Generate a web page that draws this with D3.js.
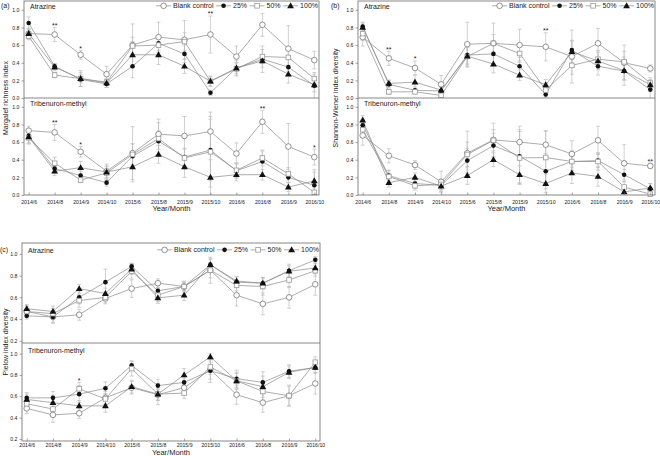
<!DOCTYPE html>
<html><head><meta charset="utf-8">
<script src="https://cdn.jsdelivr.net/npm/d3@7"></script>
<style>body{margin:0;background:#fff}svg{display:block}</style>
</head><body><svg id="c" width="660" height="456"></svg>
<script>
const months = ["2014/6","2014/8","2014/9","2014/10","2015/6","2015/8","2015/9","2015/10","2016/6","2016/8","2016/9","2016/10"];
const seriesNames = ["Blank control","25%","50%","100%"];
const indexTicks = [0, 0.2, 0.4, 0.6, 0.8, 1.0];
const pielouTicks = [0.2, 0.4, 0.6, 0.8, 1.0];

// rows: Blank control, 25%, 50%, 100%
const margalefAtrazine = [
  [0.73,0.72,0.49,0.27,0.60,0.69,0.66,0.72,0.47,0.83,0.56,0.43],
  [0.85,0.36,0.21,0.16,0.36,0.62,0.50,0.06,0.34,0.44,0.35,0.14],
  [0.70,0.26,0.22,0.18,0.59,0.60,0.64,0.19,0.33,0.47,0.46,0.22],
  [0.73,0.35,0.22,0.17,0.49,0.49,0.36,0.19,0.34,0.42,0.27,0.15]
];
const margalefAtrazineErr = [
  [0.05,0.08,0.05,0.09,0.24,0.17,0.22,0.21,0.12,0.13,0.26,0.10],
  [0.07,0.03,0.08,0.04,0.13,0.08,0.10,0.03,0.09,0.15,0.10,0.15],
  [0.04,0.03,0.05,0.03,0.10,0.09,0.10,0.05,0.07,0.08,0.11,0.05],
  [0.06,0.04,0.09,0.05,0.15,0.11,0.08,0.06,0.06,0.07,0.10,0.08]
];
const margalefAtrazineStars = [["2014/8","**"],["2014/9","*"],["2015/10","**"]];

const margalefTribenuron = [
  [0.73,0.71,0.49,0.27,0.475,0.69,0.67,0.72,0.47,0.83,0.55,0.43],
  [0.67,0.30,0.22,0.14,0.44,0.61,0.43,0.51,0.275,0.38,0.20,0.11],
  [0.65,0.36,0.17,0.25,0.46,0.64,0.42,0.49,0.28,0.42,0.24,0.03],
  [0.66,0.27,0.31,0.26,0.32,0.46,0.32,0.20,0.23,0.23,0.09,0.16]
];
const margalefTribenuronErr = [
  [0.05,0.09,0.06,0.08,0.30,0.17,0.22,0.22,0.12,0.13,0.26,0.09],
  [0.08,0.05,0.05,0.04,0.14,0.12,0.10,0.35,0.09,0.12,0.06,0.15],
  [0.07,0.07,0.03,0.08,0.12,0.18,0.10,0.40,0.08,0.09,0.07,0.05],
  [0.08,0.05,0.07,0.06,0.17,0.10,0.12,0.20,0.07,0.06,0.05,0.13]
];
const margalefTribenuronStars = [["2014/8","**"],["2014/9","*"],["2016/8","**"],["2016/10","*"]];

const shannonAtrazine = [
  [0.69,0.45,0.34,0.155,0.61,0.62,0.60,0.58,0.47,0.62,0.40,0.335],
  [0.81,0.155,0.087,0.08,0.487,0.50,0.36,0.04,0.545,0.36,0.305,0.095],
  [0.73,0.07,0.07,0.03,0.47,0.62,0.505,0.09,0.37,0.44,0.41,0.17],
  [0.80,0.165,0.18,0.09,0.475,0.385,0.26,0.15,0.525,0.42,0.31,0.15]
];
const shannonAtrazineErr = [
  [0.10,0.08,0.08,0.10,0.25,0.23,0.18,0.16,0.30,0.17,0.20,0.04],
  [0.05,0.04,0.04,0.04,0.10,0.12,0.10,0.04,0.11,0.10,0.16,0.10],
  [0.08,0.03,0.02,0.02,0.12,0.10,0.10,0.08,0.10,0.10,0.12,0.04],
  [0.05,0.04,0.08,0.04,0.10,0.10,0.06,0.06,0.12,0.10,0.10,0.08]
];
const shannonAtrazineStars = [["2014/8","**"],["2014/9","*"],["2015/10","**"]];

const shannonTribenuron = [
  [0.675,0.445,0.34,0.15,0.475,0.625,0.60,0.57,0.465,0.62,0.36,0.33],
  [0.79,0.22,0.13,0.11,0.39,0.56,0.44,0.27,0.38,0.39,0.23,0.07],
  [0.74,0.21,0.105,0.12,0.46,0.62,0.42,0.425,0.38,0.38,0.09,0.01],
  [0.85,0.14,0.20,0.10,0.22,0.40,0.23,0.13,0.25,0.21,0.035,0.08]
];
const shannonTribenuronErr = [
  [0.11,0.08,0.05,0.12,0.25,0.19,0.18,0.16,0.15,0.16,0.21,0.03],
  [0.06,0.06,0.05,0.05,0.14,0.14,0.30,0.20,0.10,0.08,0.06,0.06],
  [0.07,0.07,0.05,0.06,0.14,0.12,0.30,0.30,0.12,0.10,0.06,0.03],
  [0.05,0.05,0.05,0.06,0.10,0.08,0.10,0.10,0.12,0.11,0.04,0.05]
];
const shannonTribenuronStars = [["2016/10","**"]];

const pielouAtrazine = [
  [0.47,0.42,0.44,0.59,0.68,0.73,0.70,0.85,0.62,0.54,0.60,0.72],
  [0.43,0.42,0.60,0.74,0.885,0.66,0.70,0.90,0.74,0.73,0.845,0.945],
  [0.47,0.45,0.57,0.60,0.84,0.62,0.70,0.85,0.71,0.70,0.76,0.845],
  [0.495,0.47,0.68,0.635,0.86,0.595,0.62,0.90,0.75,0.73,0.84,0.87]
];
const pielouAtrazineErr = [
  [0.05,0.06,0.05,0.05,0.08,0.04,0.04,0.12,0.10,0.10,0.10,0.10],
  [0.03,0.05,0.06,0.12,0.03,0.05,0.04,0.06,0.05,0.05,0.06,0.03],
  [0.05,0.05,0.06,0.05,0.07,0.06,0.05,0.07,0.05,0.08,0.07,0.05],
  [0.04,0.05,0.04,0.05,0.05,0.05,0.05,0.05,0.04,0.05,0.05,0.04]
];
const pielouAtrazineStars = [];

const pielouTribenuron = [
  [0.486,0.425,0.44,0.585,0.68,0.615,0.68,0.85,0.615,0.54,0.605,0.72],
  [0.585,0.585,0.62,0.675,0.89,0.70,0.73,0.84,0.765,0.73,0.835,0.87],
  [0.53,0.48,0.67,0.575,0.86,0.62,0.63,0.875,0.745,0.645,0.605,0.92],
  [0.57,0.54,0.51,0.51,0.69,0.62,0.80,0.97,0.745,0.69,0.825,0.87]
];
const pielouTribenuronErr = [
  [0.05,0.07,0.05,0.06,0.06,0.05,0.06,0.12,0.09,0.09,0.10,0.10],
  [0.05,0.06,0.08,0.06,0.04,0.06,0.04,0.08,0.08,0.10,0.06,0.05],
  [0.05,0.07,0.06,0.05,0.07,0.10,0.05,0.07,0.07,0.08,0.09,0.05],
  [0.05,0.07,0.05,0.06,0.06,0.06,0.06,0.03,0.08,0.10,0.06,0.05]
];
const pielouTribenuronStars = [["2014/9","*"]];

// ---------- drawing ----------
const FONT = "'Liberation Sans', Arial, sans-serif";
const LINE = "#8a8a8a", FRAME = "#6a6a6a", ERR = "#bdbdbd", TXT = "#222";
const svg = d3.select("#c").attr("font-family", FONT);

const panels = [
  {tag:"(a)", tagX:1, title:"Margalef richness index", titleX:5.5, x0:24, x1:319, tickY:203.5, xlabY:211,
   subs:[
    {name:"Atrazine", data:margalefAtrazine, err:margalefAtrazineErr, stars:margalefAtrazineStars, top:1, bottom:98, dom:[0,1.1], ticks:indexTicks, legend:true},
    {name:"Tribenuron-methyl", data:margalefTribenuron, err:margalefTribenuronErr, stars:margalefTribenuronStars, top:98, bottom:195, dom:[0,1.1], ticks:indexTicks}
   ]},
  {tag:"(b)", tagX:331, title:"Shannon-Wiener index diversity", titleX:335.5, x0:358, x1:655, tickY:203.5, xlabY:211,
   subs:[
    {name:"Atrazine", data:shannonAtrazine, err:shannonAtrazineErr, stars:shannonAtrazineStars, top:1, bottom:98, dom:[0,1.1], ticks:indexTicks, legend:true},
    {name:"Tribenuron-methyl", data:shannonTribenuron, err:shannonTribenuronErr, stars:shannonTribenuronStars, top:98, bottom:195, dom:[0,1.1], ticks:indexTicks}
   ]},
  {tag:"(c)", tagX:0, title:"Pielow index diversity", titleX:5.5, x0:22, x1:320, tickY:447, xlabY:455,
   subs:[
    {name:"Atrazine", data:pielouAtrazine, err:pielouAtrazineErr, stars:pielouAtrazineStars, top:243, bottom:343, dom:[0.18,1.1], ticks:pielouTicks, legend:true},
    {name:"Tribenuron-methyl", data:pielouTribenuron, err:pielouTribenuronErr, stars:pielouTribenuronStars, top:343, bottom:441, dom:[0.18,1.1], ticks:pielouTicks}
   ]}
];

function marker(g, i, cx, cy) {
  if (i === 0) g.append("circle").attr("cx",cx).attr("cy",cy).attr("r",2.8)
      .attr("fill","#fff").attr("stroke","#777").attr("stroke-width",0.8);
  else if (i === 1) g.append("circle").attr("cx",cx).attr("cy",cy).attr("r",2.3).attr("fill","#111");
  else if (i === 2) g.append("rect").attr("x",cx-2.3).attr("y",cy-2.3).attr("width",4.6).attr("height",4.6)
      .attr("fill","#fff").attr("stroke","#999").attr("stroke-width",0.8);
  else g.append("path").attr("d", d3.symbol(d3.symbolTriangle, 20)())
      .attr("transform",`translate(${cx},${cy+0.4})`).attr("fill","#111");
}

panels.forEach(p => {
  const x = d3.scalePoint().domain(months).range([p.x0, p.x1]).padding(0.18);
  const g = svg.append("g");
  p.subs.forEach((s, k) => {
    const y = d3.scaleLinear().domain(s.dom).range([s.bottom, s.top]);
    const sg = g.append("g");
    // error bars
    s.data.forEach((vals, si) => vals.forEach((v, mi) => {
      const e = s.err[si][mi];
      const lo = Math.max(s.dom[0], v - e), hi = Math.min(s.dom[1], v + e);
      const cx = x(months[mi]);
      sg.append("line").attr("x1",cx).attr("x2",cx).attr("y1",y(lo)).attr("y2",y(hi))
        .attr("stroke",ERR).attr("stroke-width",0.7);
      [v - e, v + e].forEach(t => {
        if (t > s.dom[0] && t < s.dom[1])
          sg.append("line").attr("x1",cx-2).attr("x2",cx+2).attr("y1",y(t)).attr("y2",y(t))
            .attr("stroke",ERR).attr("stroke-width",0.7);
      });
    }));
    // lines
    const line = d3.line().x((d,i) => x(months[i])).y(d => y(d));
    s.data.forEach(vals => sg.append("path").attr("d", line(vals)).attr("fill","none")
      .attr("stroke",LINE).attr("stroke-width",0.7));
    // markers
    s.data.forEach((vals, si) => vals.forEach((v, mi) => marker(sg, si, x(months[mi]), y(v))));
    // significance stars
    s.stars.forEach(([m, lab]) => {
      const mi = months.indexOf(m);
      const topVal = d3.max(s.data, (vals, si) => vals[mi] + s.err[si][mi]);
      sg.append("text").attr("x", x(m)).attr("y", y(Math.min(topVal, s.dom[1])) + 0.5)
        .attr("text-anchor","middle").attr("font-size",7).attr("fill",TXT).text(lab);
    });
    // y axis
    const ya = d3.axisLeft(y).tickValues(s.ticks).tickSize(2.5).tickPadding(2).tickFormat(d3.format(".1f"));
    const yg = sg.append("g").attr("transform",`translate(${p.x0},0)`).call(ya);
    yg.select(".domain").remove();
    yg.selectAll("line").attr("stroke",FRAME).attr("stroke-width",0.6);
    yg.selectAll("text").attr("font-size",5.2).attr("fill",TXT).attr("font-family",FONT);
    // sub label
    sg.append("text").attr("x", p.x0 + 6).attr("y", y(1.0) - 1).attr("font-size",7).attr("fill",TXT).text(s.name);
    // legend
    if (s.legend) {
      const lg = sg.append("g");
      const cy = y(1.0) - 4;
      let cx = 0;
      seriesNames.forEach((nm, i) => {
        lg.append("line").attr("x1",cx).attr("x2",cx+15).attr("y1",cy).attr("y2",cy)
          .attr("stroke",LINE).attr("stroke-width",0.7);
        marker(lg, i, cx+7.5, cy);
        const t = lg.append("text").attr("x",cx+17).attr("y",cy+2.5).attr("font-size",7).attr("fill",TXT).text(nm);
        cx += 17 + t.node().getComputedTextLength() + 2.5;
      });
      cx -= 2.5;
      lg.attr("transform",`translate(${p.x1 - 1 - cx},0)`);
    }
    // bottom axis on lower sub
    if (k === p.subs.length - 1) {
      const xa = d3.axisBottom(x).tickSizeInner(-2.5).tickSizeOuter(0).tickPadding(1);
      const xg = sg.append("g").attr("transform",`translate(0,${s.bottom})`).call(xa);
      xg.select(".domain").remove();
      xg.selectAll("line").attr("stroke",FRAME).attr("stroke-width",0.6);
      xg.selectAll("text").attr("font-size",5.2).attr("fill",TXT).attr("font-family",FONT)
        .attr("y", p.tickY - s.bottom).attr("dy",0);
    }
  });
  // frame
  const top = p.subs[0].top, bot = p.subs[p.subs.length-1].bottom;
  g.append("rect").attr("x",p.x0).attr("y",top).attr("width",p.x1-p.x0).attr("height",bot-top)
    .attr("fill","none").attr("stroke",FRAME).attr("stroke-width",0.8);
  g.append("line").attr("x1",p.x0).attr("x2",p.x1).attr("y1",p.subs[0].bottom).attr("y2",p.subs[0].bottom)
    .attr("stroke",FRAME).attr("stroke-width",0.8);
  // tag
  g.append("text").attr("x",p.tagX).attr("y",top + (p.tag === "(c)" ? 8.5 : 6.5)).attr("font-size",7).attr("fill",TXT).text(p.tag);
  // y title
  const cy = (top + bot) / 2;
  g.append("text").attr("transform",`translate(${p.titleX + 2.5},${cy}) rotate(-90)`)
    .attr("text-anchor","middle").attr("font-size",7).attr("fill",TXT).text(p.title);
  // x title
  g.append("text").attr("x",(p.x0+p.x1)/2).attr("y",p.xlabY).attr("text-anchor","middle")
    .attr("font-size",7.5).attr("fill",TXT).text("Year/Month");
});
</script></body></html>
